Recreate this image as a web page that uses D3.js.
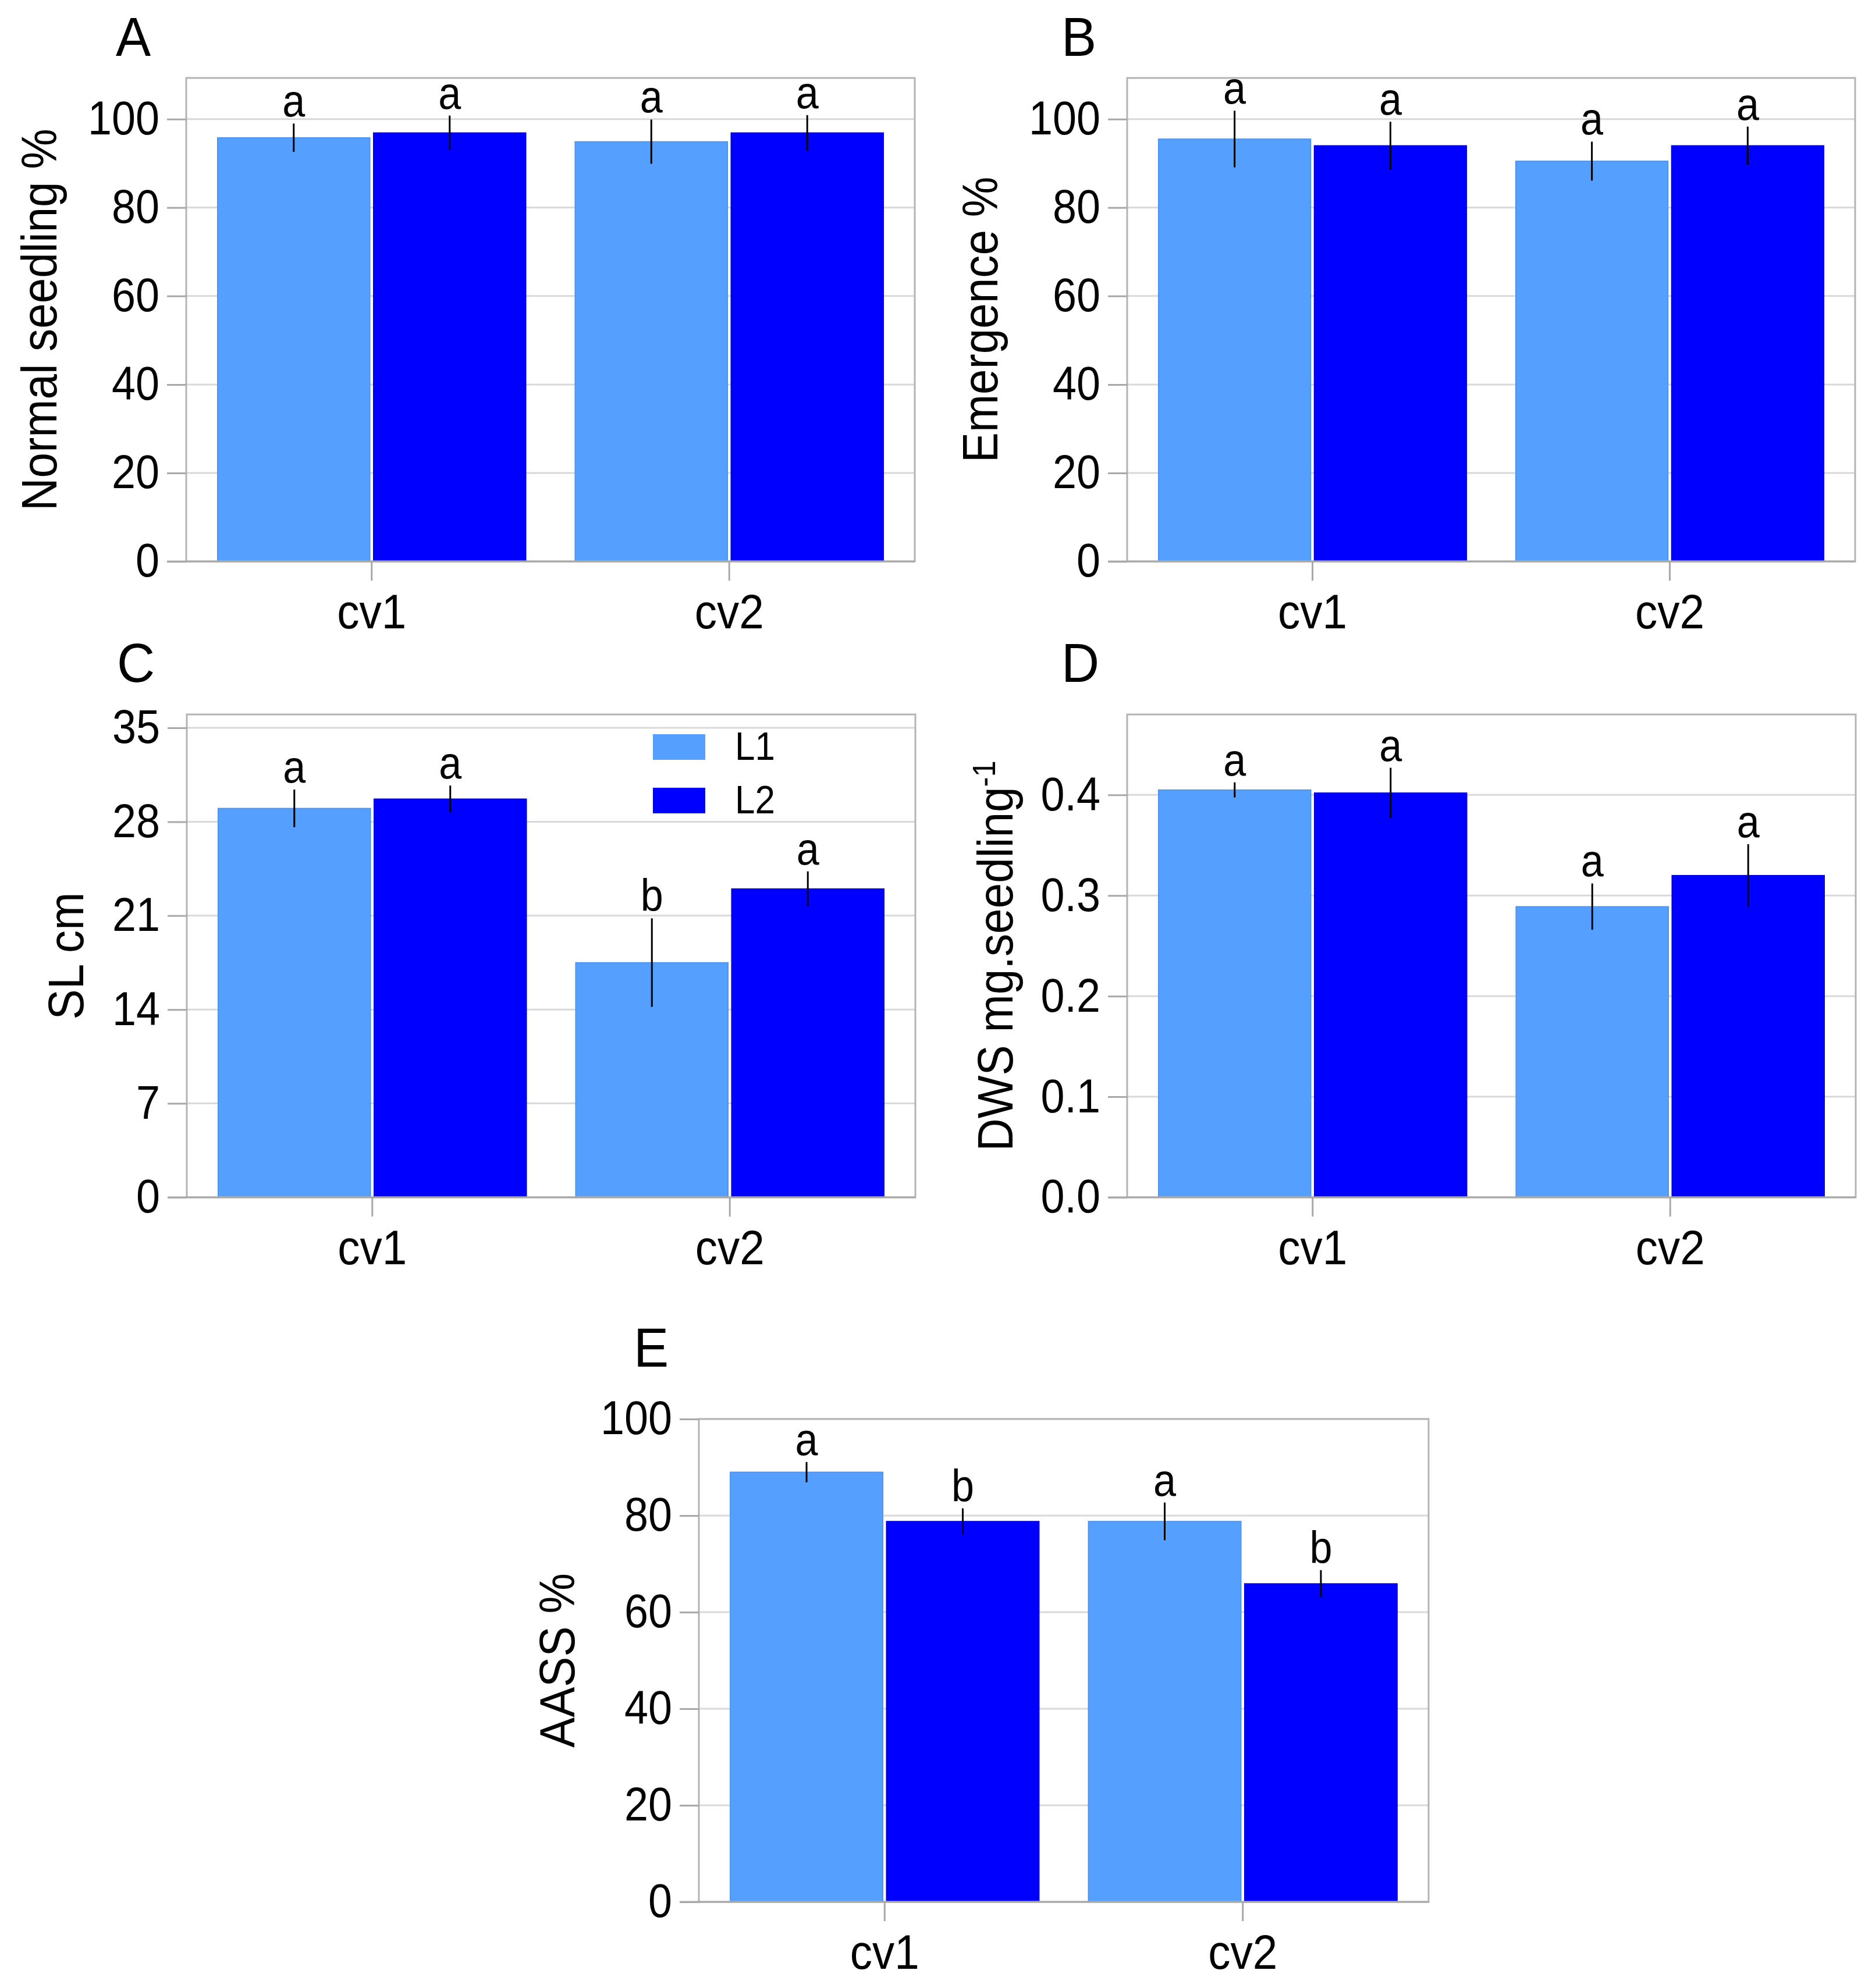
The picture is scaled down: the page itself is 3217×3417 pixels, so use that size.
<!DOCTYPE html>
<html>
<head>
<meta charset="utf-8">
<script src="https://cdn.jsdelivr.net/npm/d3@7"></script>
<style>
  body { margin: 0; background: #fff; }
  svg text { font-family: Arial, "Liberation Sans", sans-serif; fill: #000; }
</style>
</head>
<body>
<svg id="fig"></svg>
<script>
// categories
const cultivars = ["cv1", "cv2"];
const levels = ["L1", "L2"];

// values: [cultivar][level]
const normalMean = [[95.8, 96.9], [94.9, 96.9]];
const normalErr = [[3.2, 3.9], [5.0, 4.0]];
const normalSig = [["a", "a"], ["a", "a"]];

const emergMean = [[95.5, 94.0], [90.5, 94.0]];
const emergErr = [[6.4, 5.4], [4.4, 4.3]];
const emergSig = [["a", "a"], ["a", "a"]];

const slMean = [[29.0, 29.7], [17.5, 23.0]];
const slErr = [[1.4, 1.0], [3.3, 1.3]];
const slSig = [["a", "a"], ["b", "a"]];

const dwsMean = [[0.405, 0.402], [0.289, 0.320]];
const dwsErr = [[0.0075, 0.025], [0.023, 0.031]];
const dwsSig = [["a", "a"], ["a", "a"]];

const aassMean = [[89.0, 78.8], [78.8, 65.9]];
const aassErr = [[2.1, 2.7], [3.9, 2.8]];
const aassSig = [["a", "b"], ["a", "b"]];

// tick labels
const pctTicks = [0, 20, 40, 60, 80, 100];
const slTicks = [0, 7, 14, 21, 28, 35];
const dwsTicks = [0, 0.1, 0.2, 0.3, 0.4];

const colors = {L1: "#559fff", L2: "#0000ff"};
const strokes = {L1: "#4b8fe8", L2: "#0000d8"};

// text in the original is slightly condensed
const K = 0.91;

const W = 3217, H = 3417;
const svg = d3.select("#fig").attr("width", W).attr("height", H);
svg.append("rect").attr("width", W).attr("height", H).attr("fill", "#fff");

// squeeze text horizontally while keeping its anchor point
function condense(sel, k) {
  sel.each(function() {
    const t = d3.select(this);
    const x = +(t.attr("x") || 0);
    const pre = t.attr("transform") || "";
    t.attr("x", x / k).attr("transform", `${pre} scale(${k},1)`);
  });
}

// panel layouts (pixels)
const panels = [
  {tag: "A", mean: normalMean, err: normalErr, sig: normalSig, ticks: pctTicks, max: 109.3, fmt: d3.format("d"),
   left: 320, right: 1572, top: 134, bottom: 965, tagX: 199, tagY: 96, titleX: 97, title: "Normal seedling %"},
  {tag: "B", mean: emergMean, err: emergErr, sig: emergSig, ticks: pctTicks, max: 109.3, fmt: d3.format("d"),
   left: 1937, right: 3188, top: 134, bottom: 965, tagX: 1824, tagY: 96, titleX: 1714, title: "Emergence %"},
  {tag: "C", mean: slMean, err: slErr, sig: slSig, ticks: slTicks, max: 36, fmt: d3.format("d"),
   left: 321, right: 1573, top: 1228, bottom: 2058, tagX: 201, tagY: 1172, titleX: 143, title: "SL cm", legend: true},
  {tag: "D", mean: dwsMean, err: dwsErr, sig: dwsSig, ticks: dwsTicks, max: 0.48, fmt: d3.format(".1f"),
   left: 1937, right: 3189, top: 1228, bottom: 2058, tagX: 1824, tagY: 1172, titleX: 1740, title: "DWS mg.seedling", sup: "-1"},
  {tag: "E", mean: aassMean, err: aassErr, sig: aassSig, ticks: pctTicks, max: 100, fmt: d3.format("d"),
   left: 1201, right: 2455, top: 2439, bottom: 3269, tagX: 1089, tagY: 2349, titleX: 987, title: "AASS %"}
];

panels.forEach(drawPanel);

function drawPanel(p) {
  const w = p.right - p.left, h = p.bottom - p.top;
  const g = svg.append("g").attr("transform", `translate(${p.left},${p.top})`);

  const x0 = d3.scaleBand().domain(cultivars).range([0, w]).paddingInner(0.1375).paddingOuter(0.0875);
  const x1 = d3.scaleBand().domain(levels).range([0, x0.bandwidth()]).paddingInner(0.0224);
  const y = d3.scaleLinear().domain([0, p.max]).range([h, 0]);

  // gridlines
  g.append("g").selectAll("line").data(p.ticks.filter(t => t > 0)).join("line")
    .attr("x1", 0).attr("x2", w)
    .attr("y1", d => y(d)).attr("y2", d => y(d))
    .attr("stroke", "#d9d9d9").attr("stroke-width", 3);

  // bars
  const rows = [];
  cultivars.forEach((c, i) => levels.forEach((l, j) => {
    rows.push({c, l, v: p.mean[i][j], e: p.err[i][j], s: p.sig[i][j]});
  }));
  const cx = d => x0(d.c) + x1(d.l) + x1.bandwidth() / 2;

  g.append("g").selectAll("rect").data(rows).join("rect")
    .attr("x", d => x0(d.c) + x1(d.l))
    .attr("y", d => y(d.v))
    .attr("width", x1.bandwidth())
    .attr("height", d => h - y(d.v))
    .attr("fill", d => colors[d.l])
    .attr("stroke", d => strokes[d.l])
    .attr("stroke-width", 1.5);

  // plot frame
  g.append("rect").attr("width", w).attr("height", h)
    .attr("fill", "none").attr("stroke", "#b4b4b4").attr("stroke-width", 3);

  // error bars
  g.append("g").selectAll("line").data(rows).join("line")
    .attr("x1", cx).attr("x2", cx)
    .attr("y1", d => y(d.v + d.e)).attr("y2", d => y(d.v - d.e))
    .attr("stroke", "#000").attr("stroke-width", 3);

  // significance letters
  g.append("g").selectAll("text").data(rows).join("text")
    .attr("x", cx).attr("y", d => y(d.v + d.e) - 12)
    .attr("text-anchor", "middle")
    .style("font-size", "77px")
    .text(d => d.s)
    .call(condense, K);

  // y axis
  const yAxis = d3.axisLeft(y).tickValues(p.ticks).tickFormat(p.fmt).tickSize(33).tickPadding(13);
  const yG = g.append("g").call(yAxis);
  yG.select(".domain").remove();
  yG.selectAll(".tick line").attr("stroke", "#a8a8a8").attr("stroke-width", 3);
  yG.selectAll(".tick text").style("font-size", "81px").call(condense, K);

  // x axis
  const xAxis = d3.axisBottom(x0).tickSize(33).tickPadding(22);
  const xG = g.append("g").attr("transform", `translate(0,${h})`).call(xAxis);
  xG.select(".domain").remove();
  xG.selectAll(".tick line").attr("stroke", "#a8a8a8").attr("stroke-width", 3);
  xG.selectAll(".tick text").style("font-size", "84px").call(condense, K);
  g.append("line").attr("x1", -33).attr("x2", w).attr("y1", h).attr("y2", h)
    .attr("stroke", "#a8a8a8").attr("stroke-width", 3);

  // y title
  const t = svg.append("text")
    .attr("transform", `translate(${p.titleX},${p.top + h / 2}) rotate(-90)`)
    .attr("text-anchor", "middle")
    .style("font-size", "86px")
    .text(p.title);
  if (p.sup) {
    t.append("tspan").attr("baseline-shift", "super").style("font-size", "56px").text(p.sup);
  }
  t.call(condense, K);

  // panel tag
  svg.append("text").attr("x", p.tagX).attr("y", p.tagY)
    .style("font-size", "95px").text(p.tag)
    .call(condense, 0.95);

  if (p.legend) {
    const lg = g.append("g").attr("transform", "translate(801,34)");
    levels.forEach((l, i) => {
      lg.append("rect").attr("x", 0).attr("y", i * 92).attr("width", 90).attr("height", 44)
        .attr("fill", colors[l]);
      lg.append("text").attr("x", 141).attr("y", i * 92 + 44)
        .style("font-size", "68px").text(l)
        .call(condense, K);
    });
  }
}
</script>
</body>
</html>
